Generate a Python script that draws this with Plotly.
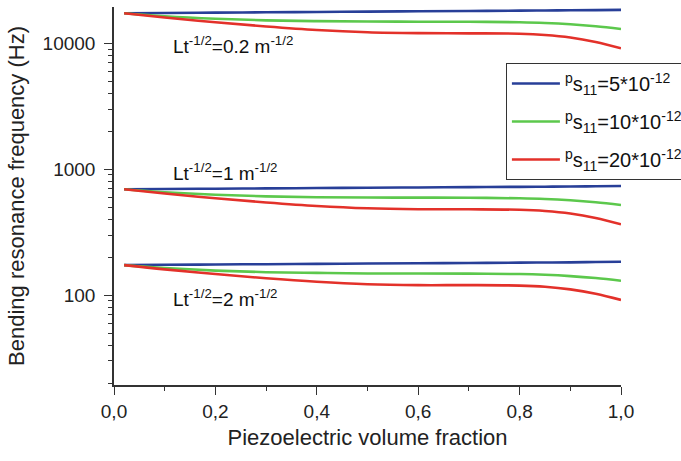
import plotly.graph_objects as go

x = [0.02, 0.1, 0.2, 0.3, 0.4, 0.5, 0.6, 0.7, 0.8, 0.85, 0.9, 0.95, 1.0]

# Lt^-1/2 = 0.2 m^-1/2
g1_s5 = [17300, 17390, 17500, 17610, 17720, 17830, 17940, 18050, 18160, 18220, 18280, 18340, 18400]
g1_s10 = [17300, 16390, 15650, 15200, 14980, 14870, 14840, 14820, 14680, 14500, 14160, 13650, 12990]
g1_s20 = [17300, 16030, 14680, 13600, 12750, 12230, 12030, 11990, 11900, 11640, 11120, 10240, 9130]

# Lt^-1/2 = 1 m^-1/2
g2_s5 = [692, 696, 700, 704, 708, 712, 716, 720, 724, 726, 728, 732, 736]
g2_s10 = [692, 656, 626, 608, 599, 595, 594, 593, 587, 580, 566, 546, 520]
g2_s20 = [692, 641, 587, 544, 510, 489, 481, 480, 476, 466, 445, 410, 365]

# Lt^-1/2 = 2 m^-1/2
g3_s5 = [173, 174, 175, 176, 177, 178, 179, 180, 181, 181.5, 182, 183, 184]
g3_s10 = [173, 164, 156.5, 152, 150, 148.5, 148.5, 148, 147, 145, 141.5, 136.5, 130]
g3_s20 = [173, 160, 147, 136, 127.5, 122, 120, 120, 119, 116.5, 111, 102.5, 91.5]

series_names = ["<sup>p</sup>s<sub>11</sub>=5*10<sup>-12</sup>",
                "<sup>p</sup>s<sub>11</sub>=10*10<sup>-12</sup>",
                "<sup>p</sup>s<sub>11</sub>=20*10<sup>-12</sup>"]
colors = ["#283f98", "#5cc84c", "#e3312a"]
groups = [[g1_s5, g1_s10, g1_s20], [g2_s5, g2_s10, g2_s20], [g3_s5, g3_s10, g3_s20]]
labels = ["Lt<sup>-1/2</sup>=0.2 m<sup>-1/2</sup>",
          "Lt<sup>-1/2</sup>=1 m<sup>-1/2</sup>",
          "Lt<sup>-1/2</sup>=2 m<sup>-1/2</sup>"]
label_y = [3.987, 2.978, 1.977]

FONT = "Liberation Sans, Arial, Helvetica, sans-serif"

fig = go.Figure()
for gi, grp in enumerate(groups):
    for si, vals in enumerate(grp):
        fig.add_trace(go.Scatter(
            x=x, y=vals, mode="lines",
            line=dict(color=colors[si], width=2.6, shape="spline", smoothing=1.0),
            name=series_names[si], legendgroup=str(si), showlegend=(gi == 0)))

for lab, ly in zip(labels, label_y):
    fig.add_annotation(x=0.112, y=ly, xref="x", yref="y", text=lab, showarrow=False,
                       xanchor="left", yanchor="middle",
                       font=dict(family=FONT, size=19, color="#111"))

fig.update_layout(
    width=681, height=461,
    margin=dict(l=114, r=60, t=7, b=76, autoexpand=False),
    paper_bgcolor="white", plot_bgcolor="white",
    separators=",.",
    font=dict(family=FONT, size=18, color="#222"),
    legend=dict(x=0.773, y=0.852, xanchor="left", yanchor="top",
                bordercolor="#333", borderwidth=1, bgcolor="white",
                tracegroupgap=9, itemwidth=48,
                font=dict(family=FONT, size=20, color="#111")),
    xaxis=dict(range=[0, 1], tickvals=[0, 0.2, 0.4, 0.6, 0.8, 1.0], tickformat=".1f",
               ticks="outside", ticklen=8, tickwidth=1.3, tickcolor="#333",
               showline=True, linecolor="#333", linewidth=1.5, showgrid=False, zeroline=False,
               minor=dict(dtick=0.1, ticks="outside", ticklen=4, tickcolor="#333", tickwidth=1.2),
               title=dict(text="Piezoelectric volume fraction", font=dict(size=22), standoff=9),
               tickfont=dict(size=19)),
    yaxis=dict(type="log", range=[1.286, 4.288], tickvals=[100, 1000, 10000],
               ticktext=["100", "1000", "10000"],
               ticks="outside", ticklen=8, tickwidth=1.3, tickcolor="#333",
               showline=True, linecolor="#333", linewidth=1.5, showgrid=False, zeroline=False,
               minor=dict(dtick="D1", ticks="outside", ticklen=4, tickcolor="#333", tickwidth=1.2),
               ticklabelstandoff=5,
               title=dict(text="Bending resonance frequency (Hz)", font=dict(size=22), standoff=12),
               tickfont=dict(size=19)),
)

fig.write_html("out.html")
